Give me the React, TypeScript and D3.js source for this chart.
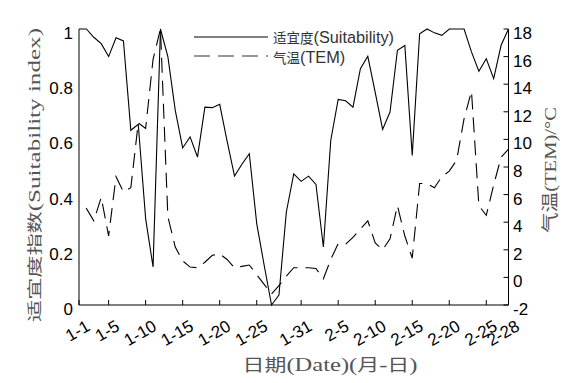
import React from "react";
import * as d3 from "d3";

const suitability = [
  1.0, 1.0, 0.97, 0.947, 0.9, 0.968, 0.957, 0.633, 0.655, 0.313,
  0.138, 1.0, 0.9, 0.705, 0.569, 0.609, 0.536, 0.717, 0.715, 0.727,
  0.594, 0.467, 0.51, 0.548, 0.295, 0.145, 0.0, 0.036, 0.337, 0.475,
  0.448, 0.467, 0.437, 0.21, 0.597, 0.745, 0.74, 0.717, 0.856, 0.901,
  0.77, 0.636, 0.699, 0.923, 0.94, 0.542, 0.983, 1.0, 0.986, 0.977,
  1.0, 1.0, 1.0, 0.917, 0.847, 0.892, 0.82, 0.941, 1.0,
];

const temperature = [
  5.3, 5.0, 4.1, 5.8, 3.0, 7.3, 6.2, 6.5, 11.2, 10.8,
  15.8, 18.0, 4.4, 2.2, 1.2, 0.75, 0.7, 1.1, 1.6, 1.7,
  1.3, 0.7, 0.8, 0.9, 0.2, -0.5, -1.2, -0.6, 0.1, 0.7,
  0.7, 0.7, 0.65, -0.1, 1.3, 2.45, 2.4, 2.9, 3.5, 4.1,
  2.5, 2.0, 2.8, 5.2, 3.0, 1.4, 6.8, 6.8, 6.5, 7.3,
  7.7, 8.5, 11.5, 13.5, 5.2, 4.5, 6.7, 8.7, 9.3,
];

const tickIndex = [0, 4, 9, 14, 19, 24, 30, 35, 40, 45, 50, 55, 58];
const tickLabels = ["1-1", "1-5", "1-10", "1-15", "1-20", "1-25", "1-31", "2-5", "2-10", "2-15", "2-20", "2-25", "2-28"];
const leftTicks = [0, 0.2, 0.4, 0.6, 0.8, 1];
const leftTickLabels = ["0", "0.2", "0.4", "0.6", "0.8", "1"];
const rightTicks = [-2, 0, 2, 4, 6, 8, 10, 12, 14, 16, 18];

const CJK = "'Noto Sans CJK SC', sans-serif";
const SANS = "'Liberation Sans', Arial, sans-serif";
const SERIF = "'Liberation Serif', 'Times New Roman', serif";

export default function App() {
  const W = 586, H = 383;
  const left = 79, right = 508.5, top = 29, bottom = 305;
  const x = d3.scaleLinear().domain([0, 58]).range([left, right]);
  const yL = d3.scaleLinear().domain([0, 1]).range([bottom, top]);
  const yR = d3.scaleLinear().domain([-2, 18]).range([bottom, top]);

  const idx = d3.range(suitability.length);
  const lineS = d3.line<number>().x((i) => x(i)).y((i) => yL(suitability[i]))(idx) || "";
  const lineT = d3.line<number>().x((i) => x(i)).y((i) => yR(temperature[i]))(idx) || "";

  return (
    <svg width={W} height={H} style={{ position: "absolute", left: 0, top: 0, background: "#fff" }}>
      <rect x={0} y={0} width={W} height={H} fill="#fff" />
      {/* axes */}
      <line x1={left} y1={top} x2={left} y2={bottom} stroke="#000" strokeWidth={1} />
      <line x1={right} y1={top} x2={right} y2={bottom} stroke="#000" strokeWidth={1} />
      <line x1={left} y1={bottom} x2={right} y2={bottom} stroke="#000" strokeWidth={1} />

      {/* bottom ticks */}
      {tickIndex.map((t, k) => (
        <g key={"bt" + k}>
          <line x1={x(t)} x2={x(t)} y1={bottom} y2={bottom - 5} stroke="#000" />
          <text
            transform={`translate(${x(t) + 6},${319}) rotate(-30)`}
            textAnchor="end"
            dy="0.72em"
            fontFamily={SANS}
            fontSize={17}
            fill="#000"
          >
            {tickLabels[k]}
          </text>
        </g>
      ))}

      {/* left tick labels */}
      {leftTicks.map((v, k) => (
        <text key={"lt" + k} x={73} y={yL(v) + 10} textAnchor="end" fontFamily={SANS} fontSize={17} fill="#000">
          {leftTickLabels[k]}
        </text>
      ))}

      {/* right ticks */}
      {rightTicks.map((v, k) => (
        <g key={"rt" + k}>
          <line x1={right - 5} x2={right} y1={yR(v)} y2={yR(v)} stroke="#000" />
          <text x={513} y={yR(v) + 10} textAnchor="start" fontFamily={SANS} fontSize={17} fill="#000">
            {String(v)}
          </text>
        </g>
      ))}

      {/* data lines */}
      <path d={lineT} fill="none" stroke="#000" strokeWidth={1.1} strokeDasharray="15,8" strokeDashoffset={15} />
      <path d={lineS} fill="none" stroke="#000" strokeWidth={1.1} />

      {/* legend */}
      <line x1={194} x2={268} y1={37} y2={37} stroke="#000" strokeWidth={1.1} />
      <line x1={194} x2={268} y1={56} y2={56} stroke="#777" strokeWidth={1.6} strokeDasharray="16,8" />
      <text x={273} y={43} fill="#333">
        <tspan fontFamily={CJK} fontSize={13.5}>适宜度</tspan>
        <tspan fontFamily={SANS} fontSize={16.3}>(Suitability)</tspan>
      </text>
      <text x={273} y={63} fill="#333">
        <tspan fontFamily={CJK} fontSize={13.5}>气温</tspan>
        <tspan fontFamily={SANS} fontSize={16.3}>(TEM)</tspan>
      </text>

      {/* axis titles */}
      <text
        transform={`translate(40,175) rotate(-90)`}
        textAnchor="middle"
        fill="#555"
        textLength={294}
        lengthAdjust="spacingAndGlyphs"
      >
        <tspan fontFamily={CJK} fontSize={15}>适宜度指数</tspan>
        <tspan fontFamily={SERIF} fontSize={17}>(Suitability index)</tspan>
      </text>
      <text
        transform={`translate(556,170) rotate(-90)`}
        textAnchor="middle"
        fill="#555"
        textLength={126}
        lengthAdjust="spacingAndGlyphs"
      >
        <tspan fontFamily={CJK} fontSize={17}>气温</tspan>
        <tspan fontFamily={SERIF} fontSize={17}>(TEM)/°C</tspan>
      </text>
      <text
        x={330}
        y={371}
        textAnchor="middle"
        fill="#555"
        textLength={175}
        lengthAdjust="spacingAndGlyphs"
      >
        <tspan fontFamily={CJK} fontSize={17}>日期</tspan>
        <tspan fontFamily={SERIF} fontSize={19}>(Date)(</tspan>
        <tspan fontFamily={CJK} fontSize={17}>月</tspan>
        <tspan fontFamily={SERIF} fontSize={19}>-</tspan>
        <tspan fontFamily={CJK} fontSize={17}>日</tspan>
        <tspan fontFamily={SERIF} fontSize={19}>)</tspan>
      </text>
    </svg>
  );
}
